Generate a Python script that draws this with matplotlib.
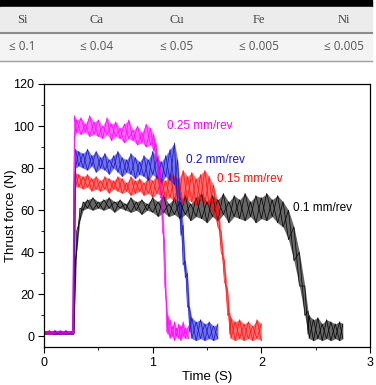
import numpy as np
import matplotlib.pyplot as plt
from matplotlib.patches import Rectangle
from matplotlib.ticker import MultipleLocator

plt.rcParams['font.family'] = ['Liberation Sans', 'DejaVu Sans']

# Tabela de composicao
elementos = ['Si', 'Ca', 'Cu', 'Fe', 'Ni']
limites = ['≤ 0.1', '≤ 0.04', '≤ 0.05', '≤ 0.005', '≤ 0.005']

# Envelopes (min / max), forca em N, tempo em s
mag_t = [0.00, 0.05, 0.10, 0.15, 0.20, 0.265, 0.272, 0.28, 0.30, 0.34, 0.38, 0.42, 0.46, 0.50,
         0.54, 0.58, 0.62, 0.66, 0.70, 0.74, 0.78, 0.82, 0.86, 0.90, 0.94, 0.98, 1.01, 1.03,
         1.05, 1.07, 1.09, 1.11, 1.13, 1.14, 1.16, 1.18, 1.20, 1.22, 1.24, 1.26, 1.28, 1.30, 1.33]
mag_hi = [2.8, 2.6, 2.9, 2.7, 2.8, 2.8, 70, 105, 103, 104, 101, 105, 102, 103,
          100, 104, 101, 102, 99, 101, 103, 98, 100, 97, 101, 99, 96, 92,
          86, 80, 66, 45, 14, 10, 8, 5, 7, 4, 6, 5, 7, 4, 5]
mag_lo = [1.2, 1.0, 1.3, 1.1, 1.2, 1.2, 1.5, 94, 97, 96, 97, 95, 96, 95,
          94, 96, 93, 95, 94, 92, 94, 93, 91, 92, 90, 91, 88, 84,
          76, 66, 50, 25, 2, 1, -1, 0, -2, 0, -1, -2, 0, -1, -1]

blu_t = [0.00, 0.05, 0.10, 0.15, 0.20, 0.265, 0.275, 0.29, 0.32, 0.36, 0.40, 0.44, 0.48, 0.52,
         0.56, 0.60, 0.64, 0.68, 0.72, 0.76, 0.80, 0.84, 0.88, 0.92, 0.96, 1.00, 1.04, 1.08,
         1.12, 1.16, 1.20, 1.23, 1.26, 1.28, 1.30, 1.32, 1.34, 1.36, 1.40, 1.44, 1.48, 1.52,
         1.56, 1.60]
blu_hi = [2.6, 2.8, 2.5, 2.7, 2.6, 2.6, 72, 89, 88, 87, 89, 86, 88, 85,
          87, 84, 86, 88, 85, 84, 87, 85, 83, 86, 84, 88, 85, 83,
          86, 89, 92, 84, 66, 53, 36, 30, 14, 9, 7, 8, 6, 7, 5, 6]
blu_lo = [1.0, 1.2, 0.9, 1.1, 1.0, 1.0, 1.5, 80, 81, 80, 79, 81, 78, 80,
          79, 77, 80, 78, 76, 78, 77, 75, 77, 76, 74, 77, 75, 73,
          76, 74, 72, 62, 48, 34, 28, 14, 2, -1, -2, -1, -2, -1, -2, -1]

red_t = [0.00, 0.05, 0.10, 0.15, 0.20, 0.265, 0.275, 0.29, 0.32, 0.36, 0.40, 0.44, 0.48, 0.52,
         0.56, 0.60, 0.64, 0.68, 0.72, 0.76, 0.80, 0.84, 0.88, 0.92, 0.96, 1.00, 1.04, 1.08,
         1.12, 1.16, 1.20, 1.24, 1.28, 1.32, 1.36, 1.40, 1.44, 1.48, 1.52, 1.56, 1.60, 1.63,
         1.66, 1.69, 1.71, 1.72, 1.76, 1.80, 1.84, 1.88, 1.92, 1.96, 2.00]
red_hi = [2.6, 2.5, 2.7, 2.6, 2.5, 2.5, 60, 78, 77, 76, 77, 75, 76, 74,
          76, 75, 74, 76, 75, 73, 76, 74, 75, 73, 76, 74, 77, 75,
          74, 78, 76, 75, 79, 76, 78, 75, 77, 79, 76, 72, 64, 50,
          36, 22, 11, 9, 7, 8, 6, 7, 5, 8, 6]
red_lo = [1.0, 1.1, 0.9, 1.0, 1.1, 1.0, 1.5, 71, 71, 70, 71, 69, 70, 69,
          70, 68, 70, 69, 68, 69, 67, 68, 69, 67, 68, 66, 68, 67,
          65, 66, 64, 66, 63, 65, 64, 62, 65, 63, 62, 58, 52, 40,
          26, 10, 1, -1, -2, -1, -2, -1, -2, -1, -2]

blk_t = [0.00, 0.05, 0.10, 0.15, 0.20, 0.265, 0.275, 0.30, 0.33, 0.36, 0.40, 0.45, 0.50, 0.55,
         0.60, 0.65, 0.70, 0.75, 0.80, 0.85, 0.90, 0.95, 1.00, 1.05, 1.10, 1.15, 1.20, 1.25,
         1.30, 1.35, 1.40, 1.45, 1.50, 1.55, 1.60, 1.65, 1.70, 1.75, 1.80, 1.85, 1.90, 1.95,
         2.00, 2.05, 2.10, 2.15, 2.20, 2.25, 2.30, 2.35, 2.40, 2.43, 2.44, 2.48, 2.52, 2.56,
         2.60, 2.64, 2.68, 2.72, 2.75]
blk_hi = [2.5, 2.6, 2.4, 2.5, 2.6, 2.5, 30, 50, 61, 64, 65, 66, 64, 65,
          66, 64, 65, 63, 66, 64, 65, 63, 66, 64, 67, 63, 66, 64,
          67, 63, 66, 68, 64, 67, 65, 68, 64, 67, 65, 68, 64, 67,
          66, 68, 65, 67, 64, 60, 52, 40, 24, 12, 10, 8, 9, 6,
          8, 7, 6, 7, 6]
blk_lo = [1.0, 1.1, 0.9, 1.0, 1.1, 1.0, 1.5, 40, 55, 60, 61, 60, 61, 60,
          61, 59, 61, 60, 59, 60, 58, 60, 59, 57, 59, 57, 58, 56,
          58, 55, 57, 56, 54, 57, 55, 58, 54, 57, 56, 55, 57, 54,
          56, 55, 57, 54, 52, 46, 36, 24, 10, 1, -1, -2, -1, -2,
          -1, -2, -1, -2, -1]

series = [
    (blk_t, blk_lo, blk_hi, '#000000', '0.1 mm/rev', 2.29, 61),
    (red_t, red_lo, red_hi, '#ff1010', '0.15 mm/rev', 1.59, 75),
    (blu_t, blu_lo, blu_hi, '#1414d0', '0.2 mm/rev', 1.31, 84),
    (mag_t, mag_lo, mag_hi, '#ff00ff', '0.25 mm/rev', 1.13, 100),
]

fig = plt.figure(figsize=(3.76, 3.85), dpi=100)

# fundo em pixels para a tabela
bg = fig.add_axes([0, 0, 1, 1])
bg.set_xlim(0, 376)
bg.set_ylim(385, 0)
bg.axis('off')
bg.add_patch(Rectangle((0, 0), 372, 7, color='black'))
bg.add_patch(Rectangle((0, 7), 372, 26, color='#ececec'))
bg.add_patch(Rectangle((0, 33), 372, 28, color='#f4f4f4'))
bg.plot([0, 372], [33, 33], color='#8c8c8c', lw=1.5)
bg.plot([0, 372], [61, 61], color='#a0a0a0', lw=1.0)
centros = [22, 97, 177, 259, 344]
for cx, el, lim in zip(centros, elementos, limites):
    bg.text(cx, 20, el, ha='center', va='center', fontsize=9,
            family=['Liberation Serif', 'DejaVu Serif'], color='#444444')
    bg.text(cx, 46, lim, ha='center', va='center', fontsize=8.5,
            family=['Open Sans', 'DejaVu Sans'], color='#555555')

# grafico
ax = fig.add_axes([44 / 376, 1 - 347 / 385, 326 / 376, 263 / 385])
for t, lo, hi, cor, rot, tx, ty in series:
    t = np.asarray(t)
    lo = np.asarray(lo)
    hi = np.asarray(hi)
    ax.fill_between(t, lo, hi, color=cor, alpha=0.6, lw=0)
    # zigue-zague entre os envelopes lidos, imitando o ruido do sinal
    z1 = np.where(np.arange(len(t)) % 2 == 0, hi, lo)
    z2 = np.where(np.arange(len(t)) % 2 == 0, lo, hi)
    ax.plot(t, z1, color=cor, lw=0.5)
    ax.plot(t, z2, color=cor, lw=0.5)
    ax.text(tx, ty, rot, color=cor, fontsize=8.5, ha='left', va='center')

ax.set_xlim(0, 3)
ax.set_ylim(-5, 120)
ax.xaxis.set_major_locator(MultipleLocator(1))
ax.xaxis.set_minor_locator(MultipleLocator(0.5))
ax.yaxis.set_major_locator(MultipleLocator(20))
ax.yaxis.set_minor_locator(MultipleLocator(10))
ax.tick_params(which='both', direction='out', top=False, right=False, labelsize=9, pad=3)
ax.tick_params(which='major', length=4)
ax.tick_params(which='minor', length=2.5)
ax.set_xlabel('Time (S)', fontsize=9.5, va='center')
ax.set_ylabel('Thrust force (N)', fontsize=9.5, va='center')
ax.xaxis.set_label_coords(0.5, -0.115)
ax.yaxis.set_label_coords(-0.1, 0.5)
for s in ax.spines.values():
    s.set_linewidth(0.9)

plt.savefig('out.png', dpi=100)
